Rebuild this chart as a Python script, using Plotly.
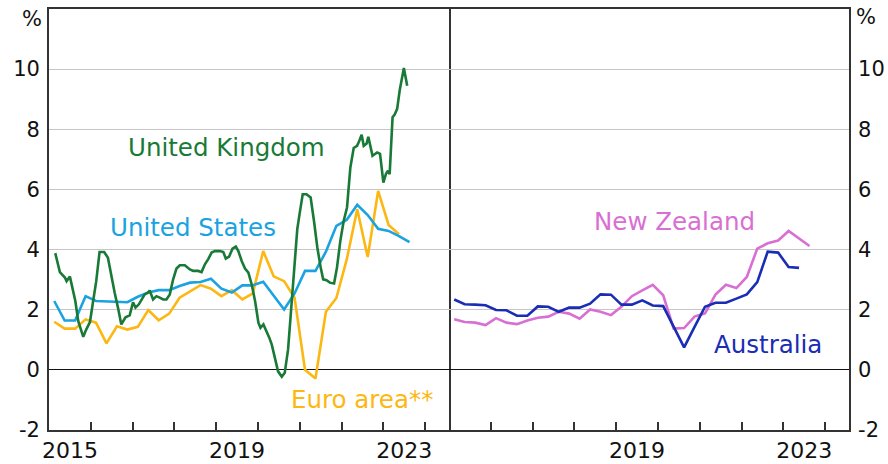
import plotly.graph_objects as go

# ---- data (per cent, year-ended) ----
# Quarterly series: observations are plotted at the middle of each quarter,
# starting with the March quarter 2015.
def quarter_mids(n, start=2015):
    return [start + 0.125 + 0.25 * k for k in range(n)]

us_vals = [2.29, 1.64, 1.64, 2.45, 2.29, 2.27, 2.26, 2.25, 2.43, 2.57, 2.65, 2.65,
           2.79, 2.90, 2.92, 3.03, 2.70, 2.57, 2.81, 2.81, 2.93, 2.48, 2.01, 2.54,
           3.29, 3.29, 3.93, 4.79, 4.99, 5.49, 5.15, 4.69, 4.62, 4.45, 4.25]

euro_vals = [1.60, 1.37, 1.37, 1.68, 1.57, 0.88, 1.45, 1.34, 1.43, 1.99, 1.65, 1.87,
             2.40, 2.62, 2.82, 2.70, 2.45, 2.65, 2.34, 2.54, 3.95, 3.11, 2.95, 2.40,
             0.00, -0.29, 1.93, 2.39, 3.68, 5.34, 3.75, 5.95, 4.82, 4.51]

aus_vals = [2.34, 2.18, 2.17, 2.15, 1.99, 1.98, 1.80, 1.80, 2.11, 2.10, 1.93, 2.07,
            2.07, 2.20, 2.51, 2.50, 2.17, 2.17, 2.31, 2.14, 2.12, 1.45, 0.75, 1.43,
            2.10, 2.23, 2.23, 2.37, 2.51, 2.92, 3.93, 3.90, 3.42, 3.39]

nz_vals = [1.68, 1.59, 1.57, 1.49, 1.72, 1.57, 1.52, 1.64, 1.73, 1.77, 1.93, 1.87,
           1.70, 2.01, 1.93, 1.82, 2.10, 2.45, 2.64, 2.83, 2.48, 1.37, 1.39, 1.77,
           1.88, 2.50, 2.83, 2.72, 3.09, 4.03, 4.21, 4.30, 4.62, 4.37, 4.12]

# Monthly UK series (decimal year, per cent)
uk_years = [2015.15, 2015.26, 2015.38, 2015.42, 2015.50, 2015.55, 2015.63, 2015.70,
            2015.82, 2015.89, 2015.98, 2016.05, 2016.13, 2016.21, 2016.32, 2016.41,
            2016.49, 2016.57, 2016.65, 2016.73, 2016.83, 2016.93, 2017.01, 2017.07,
            2017.15, 2017.21, 2017.29, 2017.37, 2017.41, 2017.49, 2017.57, 2017.65,
            2017.73, 2017.81, 2017.89, 2017.97, 2018.05, 2018.13, 2018.25, 2018.37,
            2018.45, 2018.57, 2018.65, 2018.73, 2018.81, 2018.89, 2018.97, 2019.09,
            2019.17, 2019.23, 2019.31, 2019.39, 2019.47, 2019.53, 2019.61, 2019.69,
            2019.77, 2019.85, 2019.93, 2020.01, 2020.06, 2020.13, 2020.19, 2020.27,
            2020.33, 2020.41, 2020.48, 2020.57, 2020.64, 2020.72, 2020.80, 2020.88,
            2020.94, 2021.00, 2021.07, 2021.16, 2021.26, 2021.34, 2021.42, 2021.50,
            2021.56, 2021.64, 2021.72, 2021.82, 2021.89, 2021.97, 2022.05, 2022.13,
            2022.21, 2022.29, 2022.37, 2022.42, 2022.48, 2022.53, 2022.60, 2022.64,
            2022.69, 2022.74, 2022.80, 2022.85, 2022.92, 2022.96, 2023.00, 2023.06,
            2023.11, 2023.15, 2023.22, 2023.27, 2023.33, 2023.39, 2023.49, 2023.57]
uk_vals = [3.88, 3.25, 3.07, 2.95, 3.10, 2.81, 2.29, 1.62,
           1.10, 1.34, 1.59, 2.23, 2.95, 3.92, 3.92, 3.73,
           3.12, 2.57, 2.07, 1.51, 1.75, 1.81, 2.25, 2.07,
           2.18, 2.34, 2.51, 2.57, 2.64, 2.34, 2.45, 2.40,
           2.34, 2.34, 2.51, 3.01, 3.37, 3.48, 3.48, 3.34,
           3.29, 3.29, 3.25, 3.51, 3.68, 3.90, 3.95, 3.95,
           3.92, 3.70, 3.77, 4.03, 4.10, 3.95, 3.62, 3.37,
           3.23, 2.84, 2.29, 1.57, 1.40, 1.51, 1.34, 1.07,
           0.84, 0.34, -0.05, -0.23, -0.10, 0.68, 2.12, 3.79,
           4.68, 5.23, 5.84, 5.84, 5.73, 4.95, 4.07, 3.40,
           3.01, 2.98, 2.90, 2.87, 3.40, 4.29, 4.95, 5.40,
           6.73, 7.38, 7.45, 7.60, 7.82, 7.45, 7.53, 7.75,
           7.40, 7.12, 7.18, 7.23, 7.18, 6.62, 6.23, 6.51,
           6.62, 6.51, 8.40, 8.49, 8.68, 9.29, 10.04, 9.45]

y_ticks = [-2, 0, 2, 4, 6, 8, 10]
year_ticks = list(range(2016, 2025))
left_year_labels = [2015, 2019, 2023]
right_year_labels = [2019, 2023]

# ---- styling ----
GREEN = "#187a36"
LIGHT_BLUE = "#1aa3e0"
GOLD = "#fdb713"
ORCHID = "#d86fd3"
NAVY = "#1a2db5"
INK = "#111111"
FRAME = "#333333"
FONT = "DejaVu Sans"
X_RANGE = [2015, 2024.57]
Y_RANGE = [-2, 12]

fig = go.Figure()

def add_line(x, y, color, xa, ya):
    fig.add_trace(go.Scatter(x=x, y=y, mode="lines", xaxis=xa, yaxis=ya,
                             line=dict(color=color, width=2.6),
                             hoverinfo="skip", showlegend=False))

add_line(quarter_mids(len(euro_vals)), euro_vals, GOLD, "x", "y")
add_line(quarter_mids(len(us_vals)), us_vals, LIGHT_BLUE, "x", "y")
add_line(uk_years, uk_vals, GREEN, "x", "y")
add_line(quarter_mids(len(nz_vals)), nz_vals, ORCHID, "x2", "y2")
add_line(quarter_mids(len(aus_vals)), aus_vals, NAVY, "x2", "y2")

def x_axis(domain, anchor, labels):
    return dict(domain=domain, anchor=anchor, range=X_RANGE, automargin=False,
                showgrid=False, zeroline=False, tickmode="array",
                tickvals=[yr + 0.5 for yr in labels],
                ticktext=[str(yr) for yr in labels], ticks="",
                tickfont=dict(family=FONT, size=22, color=INK),
                minor=dict(tickmode="array", tickvals=year_ticks, ticks="inside",
                           ticklen=8, tickwidth=1.5, tickcolor=FRAME,
                           showgrid=False),
                showline=True, linecolor=FRAME, linewidth=1.5, mirror=True)

def y_axis(anchor, side, mirror):
    return dict(anchor=anchor, side=side, range=Y_RANGE, automargin=False,
                tickmode="array", tickvals=y_ticks,
                ticktext=[str(v) for v in y_ticks], ticks="",
                showgrid=True, gridcolor="#c6c6c6", gridwidth=1.2,
                zeroline=True, zerolinecolor=INK, zerolinewidth=1.2,
                tickfont=dict(family=FONT, size=21, color=INK),
                ticklabelstandoff=3,
                showline=True, linecolor=FRAME, linewidth=1.8, mirror=mirror)

fig.update_layout(
    width=888, height=464,
    margin=dict(l=49, r=39, t=9, b=34, autoexpand=False),
    paper_bgcolor="white", plot_bgcolor="white",
    xaxis=x_axis([0, 0.5], "y", left_year_labels),
    xaxis2=x_axis([0.5, 1], "y2", right_year_labels),
    yaxis=y_axis("x", "left", True),
    yaxis2=y_axis("x2", "right", False),
)

# unit labels above the value axes
fig.add_annotation(text="%", xref="paper", yref="y", x=0, y=11.68, xanchor="right",
                   xshift=-5, showarrow=False,
                   font=dict(family=FONT, size=21, color=INK))
fig.add_annotation(text="%", xref="paper", yref="y2", x=1, y=11.72, xanchor="left",
                   xshift=5, showarrow=False,
                   font=dict(family=FONT, size=21, color=INK))

# series labels
series_labels = [
    ("United Kingdom", GREEN, "x", "y", 2019.25, 7.4),
    ("United States", LIGHT_BLUE, "x", "y", 2018.45, 4.73),
    ("Euro area**", GOLD, "x", "y", 2022.5, -1.0),
    ("New Zealand", ORCHID, "x2", "y2", 2020.4, 4.92),
    ("Australia", NAVY, "x2", "y2", 2022.63, 0.84),
]
for text, color, xr, yr, xv, yv in series_labels:
    fig.add_annotation(text=text, xref=xr, yref=yr, x=xv, y=yv, showarrow=False,
                       font=dict(family=FONT, size=24.5, color=color))

fig.write_html("out.html")
